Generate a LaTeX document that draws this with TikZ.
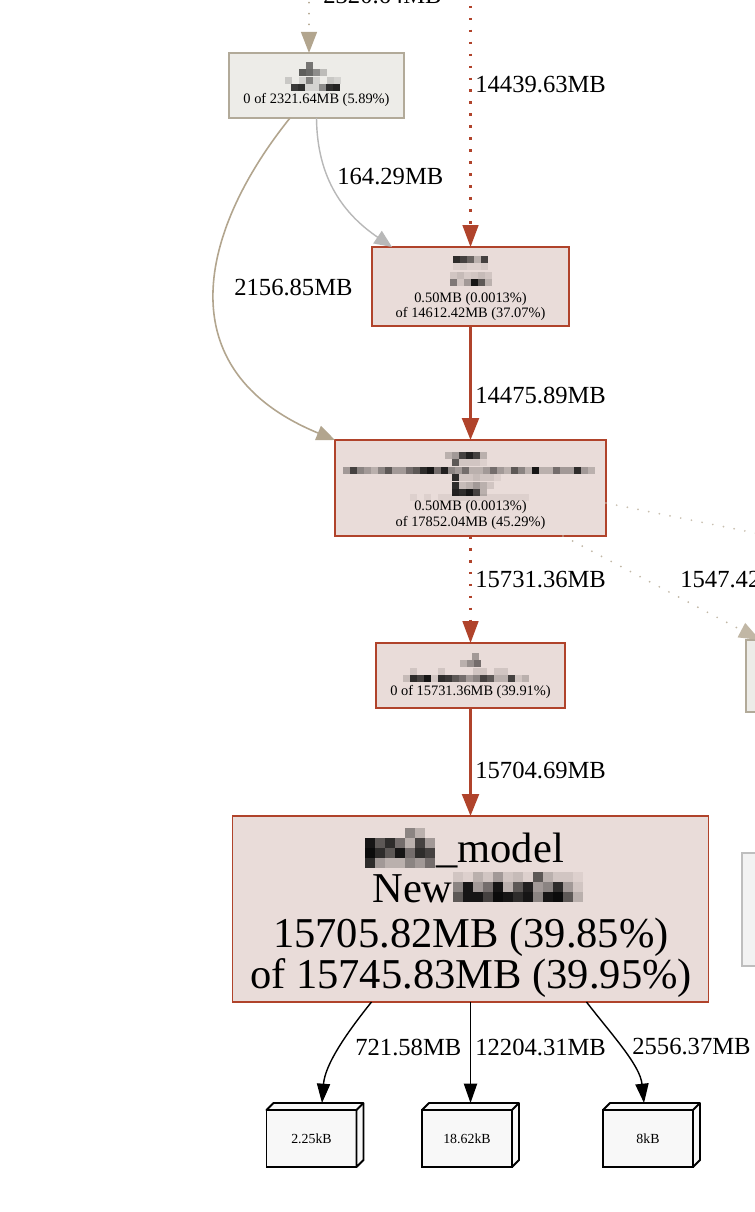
\documentclass[tikz,border=0pt]{standalone}
\usepackage{fontspec}
\setmainfont{Liberation Serif}
\usetikzlibrary{arrows.meta}
\definecolor{hotfill}{HTML}{E9DCD9}
\definecolor{hotline}{HTML}{B0432B}
\definecolor{tanfill}{HTML}{EDECE8}
\definecolor{tanline}{HTML}{B2AA99}
\definecolor{tanedge}{HTML}{B2A58E}
\definecolor{grayedge}{HTML}{B8B8B8}
\definecolor{coolfill}{HTML}{F2F2F2}
\definecolor{coolline}{HTML}{BEBEBE}
\definecolor{leaffill}{HTML}{F8F8F8}
% mosaic row: size, x, y, list of opacities
\newcommand\mosrow[4]{\foreach \g [count=\i] in {#4} {\ifdim\g pt>0pt \fill[black,opacity=\g] ({#2+(\i-1)*#1},#3) rectangle ++(#1,#1);\fi}}
\begin{document}
\begin{tikzpicture}[x=0.02cm,y=-0.02cm,
  box/.style={draw,line width=1.1pt,inner sep=0,outer sep=0},
  hot/.style={box,draw=hotline,fill=hotfill},
  lbl/.style={font=\fontsize{14}{16}\selectfont,anchor=west,inner sep=0},
  sm/.style={font=\fontsize{8.2}{9}\selectfont,anchor=base,inner sep=0},
  big/.style={font=\fontsize{24.2}{26}\selectfont,inner sep=0},
  hotedge/.style={draw=hotline,line width=1.8pt,-{Triangle[length=12.5pt,width=9.5pt]}},
  hotdot/.style={draw=hotline,line width=1.2pt,dash pattern=on 1.5pt off 5.3pt,-{Triangle[length=12.5pt,width=9pt]}},
  tandot/.style={draw=tanedge,line width=1.1pt,line cap=round,dash pattern=on 0pt off 6.2pt},
  leaf/.style={box,draw=black,line width=1.1pt,fill=leaffill,minimum width=1.8cm,minimum height=1.14cm,font=\fontsize{7.9}{9}\selectfont},
  blk/.style={draw=black,line width=0.8pt,-{Triangle[length=11pt,width=7.5pt]}}
]
\fill[white] (0,0) rectangle (754,1212);
\useasboundingbox (0,0) rectangle (754,1212);

% ---------- nodes ----------
\node[box,draw=tanline,fill=tanfill,minimum width=3.5cm,minimum height=1.3cm] (n1) at (316.5,85.5) {};
\node[hot,minimum width=3.94cm,minimum height=1.58cm] (n2) at (470.5,286.5) {};
\node[hot,minimum width=5.42cm,minimum height=1.92cm] (n3) at (470.5,488) {};
\node[hot,minimum width=3.78cm,minimum height=1.3cm] (n4) at (470.5,675.5) {};
\node[hot,line width=0.9pt,minimum width=9.52cm,minimum height=3.72cm] (n5) at (470.5,909) {};
\node[box,draw=tanline,fill=tanfill,minimum width=3.08cm,minimum height=1.44cm] (r1) at (823,676) {};
\node[box,draw=coolline,fill=coolfill,minimum width=3.16cm,minimum height=2.26cm] (r2) at (821,909.5) {};

% leaf boxes (3D)
\foreach \nm/\cx/\txt in {b1/311.5/2.25kB, b2/467/18.62kB, b3/648/8kB}{
  \node[leaf] (\nm) at (\cx,1138.5) {\txt};
  \draw[line width=1.1pt,fill=leaffill,line join=round] (\nm.north west) -- ++(7,-7) -- ([xshift=0.14cm,yshift=0.14cm]\nm.north east) -- ([xshift=0.14cm,yshift=0.14cm]\nm.south east) -- (\nm.south east) -- (\nm.north east) -- cycle;
  \draw[line width=1.1pt] (\nm.north east) -- ++(7,-7);
}

% ---------- node texts ----------
\node[sm] (t1) at (316.5,104) {0 of 2321.64MB (5.89\%)};
\node[sm] (t2a) at (470.5,303) {0.50MB (0.0013\%)};
\node[sm] (t2b) at (470.5,318) {of 14612.42MB (37.07\%)};
\node[sm] (t3a) at (470.5,510) {0.50MB (0.0013\%)};
\node[sm] (t3b) at (470.5,526) {of 17852.04MB (45.29\%)};
\node[sm] (t4) at (470.5,695) {0 of 15731.36MB (39.91\%)};
\node[big,anchor=base west] (t5a) at (436,862) {\_model};
\node[big,anchor=base east] (t5b) at (453,902) {New};
\node[big,anchor=base] (t5c) at (471,947) {15705.82MB (39.85\%)};
\node[big,anchor=base] (t5d) at (471,988) {of 15745.83MB (39.95\%)};

% ---------- redacted (pixelated) names ----------
\mosrow{7}{306}{62}{.5}
\mosrow{7}{299}{69}{.6,.55,.4,.2}
\mosrow{7}{285}{77}{.15,0,.1,.45,.1,0,.15,.1}
\mosrow{7}{291}{84}{.75,.8,.1,.1,.4,.8,.85}
\mosrow{7}{453}{256}{.8,.7,.55,.2,.7}
\mosrow{7}{453}{263}{.05,.08,.05,.05,.08}
\mosrow{7}{450}{272}{.1,.15,.08,.1,.15,.1}
\mosrow{7}{450}{279}{.45,.1,.3,.9,.6,.2}
\mosrow{7}{445}{452}{.2,.3,.7,.85,.7,.2}
\mosrow{7}{445}{459}{0,.6,.1,.1,.1,.05}
\mosrow{7}{343}{467}{.3,.7,.4,.3,.2,.4,.6,.3,.3,.5,.6,.8,.9,.5,.85,.4,.3,.5,.2,.2,.3,.5,.3,.2,.6,.4,.2,.9,.2,.2,.5,.3,.3,.8,.3,.2}
\mosrow{7}{445}{474}{0,.8,.1,.1,.15,.1,.1,.05}
\mosrow{7}{445}{482}{0,.8,.15,.2,.3,.2,.1}
\mosrow{7}{445}{489}{0,.85,.8,.9,.7,.2}
\mosrow{7}{410}{494}{.05,0,.05,0,.05,.05,.05,.05,.05,.05,.05,.05,.05,.05,.05,.05,.05}
\mosrow{7}{472}{653}{.3}
\mosrow{7}{460}{660}{.2,.35,.5}
\mosrow{7}{403}{668}{0,.1,0,0,0,.1,0,0,0,0,.1,.1,0,.1,.1,0,0,0}
\mosrow{7}{403}{675}{.15,.8,.7,.9,.1,.8,.75,.6,.5,.3,.4,.7,.6,.2,.2,.7,.1,.2}
\mosrow{10}{365}{828}{0,0,0,0,.4,.2,0}
\mosrow{10}{365}{838}{.9,.6,.8,.5,.2,.7,.3}
\mosrow{10}{365}{848}{.95,.8,.6,.9,.5,.8,.7}
\mosrow{10}{365}{858}{.8,.3,.2,.2,.4,.3,.5}
\mosrow{10}{453}{872}{.1,.05,.2,.1,.3,.1,.15,.05,.6,.2,.1,.1,.05}
\mosrow{10}{453}{882}{.4,.9,.3,.5,.9,.2,.6,.85,.3,.4,.8,.3,.1}
\mosrow{10}{453}{892}{.6,.9,.9,.7,.95,.9,.8,.9,.4,.9,.95,.6,.2}

% ---------- connectors ----------
\coordinate (topA) at (309,-30);
\coordinate (topB) at (470.5,-30);
\coordinate (offR) at (790,540);
\coordinate (b1t) at (322,1103);
\coordinate (b2t) at (470.5,1103);
\coordinate (b3t) at (644,1103);

\draw[tandot,-{Triangle[length=12pt,width=9pt]}] (topA) -- (topA |- n1.north);
\draw[hotdot] (topB) -- (n2.north);
\draw[draw=grayedge,line width=0.8pt,-{Triangle[length=10pt,width=8.5pt]}]
  (n1.south) .. controls (317,180) and (345,215) .. ([xshift=0.4cm]n2.north west);
\draw[draw=tanedge,line width=0.9pt,-{Triangle[length=10.5pt,width=8.5pt]}]
  ([xshift=-0.53cm]n1.south) .. controls (200,230) and (165,370) .. (n3.north west);
\draw[hotedge] (n2.south) -- (n3.north);
\draw[hotdot] (n3.south) -- (n4.north);
\draw[tandot,draw=tanedge!80,-{Triangle[length=12pt,width=9pt]}] ([xshift=-0.86cm]n3.south east) -- ([xshift=0.28cm]r1.north west);
\draw[tandot,draw=tanedge!70] ([yshift=-0.3cm]n3.east) -- (offR);
\draw[hotedge] (n4.south) -- (n5.north);
\draw[blk] ([xshift=2.78cm]n5.south west) .. controls (345,1035) and (325,1065) .. (b1t);
\draw[blk] (n5.south) -- (b2t);
\draw[blk] ([xshift=-2.44cm]n5.south east) .. controls (612,1035) and (640,1065) .. (b3t);

% ---------- connector labels ----------
\node[lbl] (l0) at (323,-4) {2320.64MB};
\node[lbl] (l1) at (475,85) {14439.63MB};
\node[lbl] (l2) at (337,177) {164.29MB};
\node[lbl] (l3) at (234,287) {2156.85MB};
\node[lbl] (l4) at (475,395) {14475.89MB};
\node[lbl] (l5) at (475,580) {15731.36MB};
\node[lbl] (l6) at (680,580) {1547.42MB};
\node[lbl] (l7) at (475,770) {15704.69MB};
\node[lbl] (l8) at (355,1047) {721.58MB};
\node[lbl] (l9) at (475,1047) {12204.31MB};
\node[lbl] (l10) at (632,1047) {2556.37MB};
\end{tikzpicture}
\end{document}
